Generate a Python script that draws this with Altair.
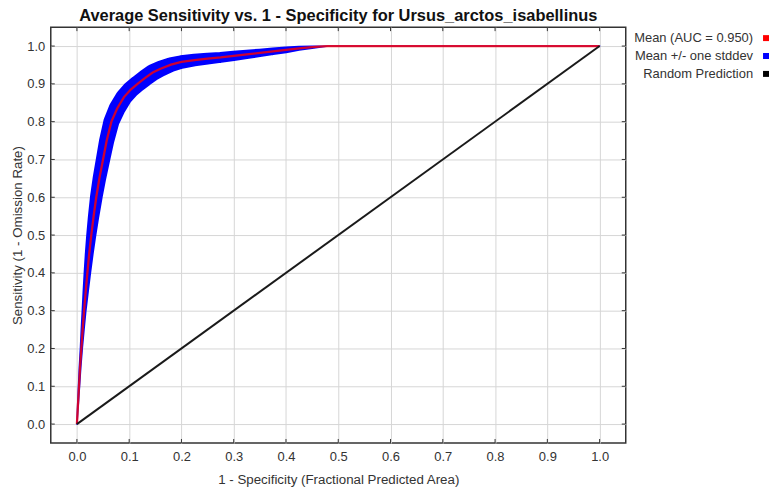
import altair as alt
import pandas as pd

# ---- data ----
fpa = [0, 0.002, 0.004, 0.006, 0.0085, 0.011, 0.0137, 0.0168, 0.02, 0.0235, 0.0275,
       0.032, 0.037, 0.043, 0.05, 0.057, 0.066, 0.077, 0.09, 0.103, 0.116, 0.13,
       0.145, 0.16, 0.18, 0.2, 0.225, 0.25, 0.275, 0.3, 0.325, 0.35, 0.375, 0.4,
       0.425, 0.45, 0.47, 0.48, 1.0]
mean_sens = [0, 0.05, 0.1, 0.15, 0.2, 0.25, 0.3, 0.35, 0.4, 0.45, 0.5,
             0.55, 0.6, 0.65, 0.7, 0.75, 0.8, 0.835, 0.865, 0.885, 0.9, 0.915,
             0.93, 0.94, 0.951, 0.958, 0.963, 0.967, 0.97, 0.974, 0.978, 0.982, 0.986, 0.99,
             0.994, 0.997, 0.999, 1.0, 1.0]
stddev = [0.0022, 0.0028, 0.0034, 0.0039, 0.0045, 0.0056, 0.0067, 0.0084, 0.0100, 0.0117, 0.0134,
          0.0151, 0.0167, 0.0179, 0.0190, 0.0201, 0.0213, 0.0224, 0.0224, 0.0224, 0.0224, 0.0224,
          0.0224, 0.0213, 0.0196, 0.0179, 0.0167, 0.0156, 0.0145, 0.0134, 0.0123, 0.0112, 0.0100, 0.0089,
          0.0067, 0.0045, 0.0028, 0.0020, 0.0020]
random_x = [0.0, 1.0]
random_y = [0.0, 1.0]
ticks = [0.0, 0.1, 0.2, 0.3, 0.4, 0.5, 0.6, 0.7, 0.8, 0.9, 1.0]
legend_labels = ["Mean (AUC = 0.950)", "Mean +/- one stddev", "Random Prediction"]
legend_colors = ["#ff0000", "#0000ff", "#000000"]
legend_rows = [0, 1, 2]

title = "Average Sensitivity vs. 1 - Specificity for Ursus_arctos_isabellinus"
x_title = "1 - Specificity (Fractional Predicted Area)"
y_title = "Sensitivity (1 - Omission Rate)"

W, H = 578, 418
FONT = "Liberation Sans"

curve = pd.DataFrame({"i": list(range(len(fpa))), "fpa": fpa, "mean": mean_sens, "sd": stddev})
diag = pd.DataFrame({"fpa": random_x, "sens": random_y})
tick_df = pd.DataFrame({"t": ticks})
leg_df = pd.DataFrame({"label": legend_labels, "row": legend_rows})

xs = alt.Scale(domain=[-0.05, 1.05], nice=False, zero=False)
ys = alt.Scale(domain=[-0.05, 1.05], nice=False, zero=False)

xaxis = alt.Axis(values=ticks, format=".1f", title=x_title, grid=True, labelPadding=8,
                 titlePadding=9)
yaxis = alt.Axis(values=ticks, format=".1f", title=y_title, grid=True, labelPadding=6,
                 titlePadding=2)

band = alt.Chart(curve).mark_trail(color="#0000ff").encode(
    x=alt.X("fpa:Q", scale=xs, axis=xaxis),
    y=alt.Y("mean:Q", scale=ys, axis=yaxis),
    size=alt.Size("sd:Q", scale=alt.Scale(domain=[0, 0.05], range=[0, 38]), legend=None),
    order="i:O",
)

mean_line = alt.Chart(curve).mark_line(color="#ff0000", strokeWidth=2.3, opacity=0.8).encode(
    x=alt.X("fpa:Q", scale=xs),
    y=alt.Y("mean:Q", scale=ys, axis=None),
    order="i:O",
)

rand_line = alt.Chart(diag).mark_line(color="#1a1a1a", strokeWidth=2).encode(
    x=alt.X("fpa:Q", scale=xs),
    y=alt.Y("sens:Q", scale=ys, axis=None),
)

tick_style = dict(color="#333333", strokeWidth=1)
tick_bottom = alt.Chart(tick_df).mark_rule(**tick_style).encode(
    x=alt.X("t:Q", scale=xs), y=alt.value(H), y2=alt.value(H - 4))
tick_top = alt.Chart(tick_df).mark_rule(**tick_style).encode(
    x=alt.X("t:Q", scale=xs), y=alt.value(0), y2=alt.value(4))
tick_left = alt.Chart(tick_df).mark_rule(**tick_style).encode(
    y=alt.Y("t:Q", scale=ys, axis=None), x=alt.value(0), x2=alt.value(4))
tick_right = alt.Chart(tick_df).mark_rule(**tick_style).encode(
    y=alt.Y("t:Q", scale=ys, axis=None), x=alt.value(W), x2=alt.value(W - 4))

# legend: labels right-aligned with the coloured square to their right
row_scale = alt.Scale(type="point", domain=legend_rows, range=[11, 47], padding=0)
legend_text = alt.Chart(leg_df).mark_text(
    align="right", baseline="middle", font=FONT, fontSize=13, color="#333333").encode(
    x=alt.value(706),
    y=alt.Y("row:O", scale=row_scale, axis=None),
    text="label:N",
)
legend_sym = alt.Chart(leg_df).mark_square(size=36, filled=True, opacity=1).encode(
    x=alt.value(719),
    y=alt.Y("row:O", scale=row_scale, axis=None),
    color=alt.Color("label:N", scale=alt.Scale(domain=legend_labels, range=legend_colors),
                    legend=None),
)

chart = alt.layer(
    band, mean_line, rand_line, tick_bottom, tick_top, tick_left, tick_right,
    legend_text, legend_sym
).resolve_scale(y="independent").properties(
    width=W, height=H,
    title=alt.TitleParams(title, fontSize=16.5, fontWeight="bold", font=FONT, color="#111111",
                          anchor="middle", offset=2),
    autosize=alt.AutoSizeParams(type="none"),
    padding={"left": 43, "top": 18, "right": 144, "bottom": 44},
).configure_view(
    stroke="#333333", strokeWidth=1.5
).configure_axis(
    labelFont=FONT, titleFont=FONT, labelFontSize=13, titleFontSize=13.4,
    titleFontWeight="normal", labelColor="#333333", titleColor="#333333",
    gridColor="#d6d6d6", gridWidth=1, domain=False, ticks=False,
)

chart.save("out.html", embed_options={"renderer": "svg", "actions": False})
